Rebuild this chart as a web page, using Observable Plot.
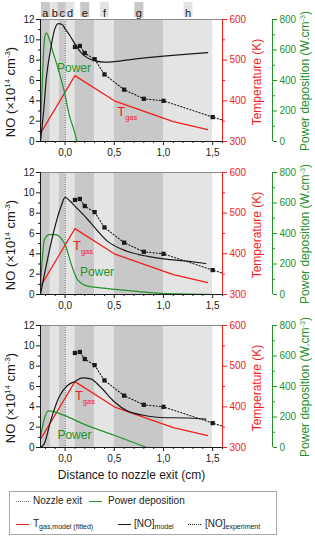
<!DOCTYPE html>
<html><head><meta charset="utf-8">
<script src="https://cdn.jsdelivr.net/npm/d3@7"></script>
<script src="https://cdn.jsdelivr.net/npm/@observablehq/plot@0.6"></script>
<style>
body{margin:0;background:#fff;font-family:"Liberation Sans",Arial,sans-serif;}
#wrap{position:relative;width:315px;height:536px;overflow:hidden;}
#charts svg{display:block;overflow:visible;background:transparent;}
#legend{position:absolute;left:9px;top:491px;width:266px;height:42px;border:1px solid #a8a8a8;font-size:10px;color:#222;}
#legend .sw{position:absolute;width:13px;height:0;}
#legend .lt{position:absolute;transform:translateY(-50%);line-height:1;white-space:nowrap;}
#legend sub{font-size:7px;vertical-align:-2px;}
.ttl{position:absolute;transform:translate(-50%,-50%) rotate(-90deg);white-space:nowrap;line-height:1;}
.ttl sup{font-size:0.6em;vertical-align:0.55em;line-height:0;}
</style></head>
<body><div id="wrap"><div id="charts"></div><div id="legend"></div></div>
<script>
// ---------- data ----------
const bandEdges = [-0.25, -0.15, -0.06, 0, 0.1, 0.3, 0.5, 1.0, 1.5];
const bandLabels = ["a", "b", "c", "d", "e", "f", "g", "h"];

const xMajorTicks = [0, 0.5, 1.0, 1.5];
const xMinorTicks = [-0.2, -0.1, 0.1, 0.2, 0.3, 0.4, 0.6, 0.7, 0.8, 0.9, 1.1, 1.2, 1.3, 1.4, 1.6];
const noMajorTicks = [0, 2, 4, 6, 8, 10, 12];
const noMinorTicks = [1, 3, 5, 7, 9, 11];
const tempMajorTicks = [300, 400, 500, 600];
const tempMinorTicks = [350, 450, 550];
const powerMajorTicks = [0, 200, 400, 600, 800];
const powerMinorTicks = [100, 300, 500, 700];

// gas temperature (K), same in all panels
const tgasX = [-0.25, 0.1, 0.5, 1.1, 1.45];
const tgasK = [320, 462, 400, 349, 329];

// experimental [NO] (x10^14 cm^-3), same in all panels
const expX  = [0.1, 0.15, 0.2, 0.3, 0.4, 0.6, 0.8, 1.0, 1.5];
const expNO = [9.3, 9.4, 8.7, 8.1, 6.6, 5.1, 4.2, 4.0, 2.4];
const expTrendEndX = 1.6, expTrendEndNO = 2.1;

// panel 1
const model1X  = [-0.25, -0.22, -0.19, -0.15, -0.11, -0.07, -0.03, 0, 0.05, 0.1, 0.15, 0.2, 0.3, 0.4, 0.5, 0.7, 1.0, 1.25, 1.45];
const model1NO = [0, 2.8, 6.3, 8.9, 10.9, 11.6, 11.5, 11.1, 10.4, 9.6, 8.9, 8.4, 7.95, 7.8, 7.85, 8.1, 8.4, 8.6, 8.75];
const power1X  = [-0.25, -0.235, -0.22, -0.205, -0.19, -0.17, -0.128, -0.06, -0.01, 0.04, 0.1, 0.12];
const power1P  = [100, 333, 567, 693, 713, 690, 597, 453, 333, 180, 53, 0];

// panel 2
const model2X  = [-0.25, -0.18, -0.11, -0.04, 0, 0.05, 0.1, 0.2, 0.26, 0.43, 0.63, 0.84, 1.0, 1.26, 1.43];
const model2NO = [0, 3.4, 6.4, 8.7, 9.55, 9.2, 8.7, 7.7, 7.05, 5.25, 4.25, 3.75, 3.5, 3.25, 3.05];
const power2X  = [-0.25, -0.21, -0.16, -0.095, -0.044, 0.007, 0.058, 0.126, 0.23, 0.36, 0.7, 0.97, 1.5];
const power2P  = [53, 360, 393, 393, 371, 317, 207, 98, 55, 44, 22, 7, 0];

// panel 3
const model3X  = [-0.25, -0.21, -0.145, -0.06, 0.024, 0.1, 0.18, 0.26, 0.36, 0.5, 0.63, 0.8, 0.97, 1.26, 1.43];
const model3NO = [0, 0.4, 2.7, 5.0, 6.1, 6.5, 6.85, 6.75, 5.95, 4.5, 3.6, 3.17, 2.95, 2.9, 2.8];
const power3X  = [-0.25, -0.21, -0.17, -0.01, 0.19, 0.5, 0.83];
const power3P  = [69, 190, 240, 211, 153, 80, 0];

// in-plot labels (x in cm, y in NO units)
const powerLabelX = [0.09, 0.325, 0.095];
const powerLabelY = [7.25, 2.18, 1.26];
const tgasLabelX  = [0.57, 0.12, 0.14];
const tgasLabelY  = [2.92, 4.8, 5.13];

const axisTitles = {
  no: "NO (×10<sup>14</sup> cm<sup>-3</sup>)",
  temp: "Temperature (K)",
  power: "Power deposition (W.cm<sup>-3</sup>)",
  x: "Distance to nozzle exit (cm)"
};

const legendItems = [
  {label: "Nozzle exit", kind: "nozzle"},
  {label: "Power deposition", kind: "power"},
  {label: "T<sub>gas,model (fitted)</sub>", kind: "tgas"},
  {label: "[NO]<sub>model</sub>", kind: "model"},
  {label: "[NO]<sub>experiment</sub>", kind: "exp"}
];

// ---------- styles ----------
const RED = "#f21d1d", GREEN = "#24922a", DARK = "#c8c8c8", LIGHT = "#e4e4e4", INK = "#1a1a1a";
const FONT = "'Liberation Sans', Arial, sans-serif";
const tToY = t => (t - 300) / 300 * 12;
const pToY = p => p / 800 * 12;
const comma = d => d.toFixed(1).replace(".", ",");
const boxSymbol = {draw(ctx) { ctx.rect(-4.5, -7.5, 9, 15); }};

const bands = bandLabels.map((l, j) => ({
  label: l, x1: bandEdges[j], x2: bandEdges[j + 1],
  mid: (bandEdges[j] + bandEdges[j + 1]) / 2, shade: j % 2 === 0 ? DARK : LIGHT
}));
const tgas = tgasX.map((x, j) => ({x, y: tToY(tgasK[j])}));
const exp = expX.map((x, j) => ({x, y: expNO[j]}));
const expLine = [...exp, {x: expTrendEndX, y: expTrendEndNO}];

const modelsX = [model1X, model2X, model3X], modelsNO = [model1NO, model2NO, model3NO];
const powersX = [power1X, power2X, power3X], powersP = [power1P, power2P, power3P];

function panel(i, top, bottom) {
  const model = modelsX[i].map((x, j) => ({x, y: modelsNO[i][j]}));
  const power = powersX[i].map((x, j) => ({x, y: pToY(powersP[i][j])}));
  const pl = [{x: powerLabelX[i], y: powerLabelY[i]}];
  const tl = [{x: tgasLabelX[i], y: tgasLabelY[i]}];
  const marks = [
    Plot.rectX(bands, {x1: "x1", x2: "x2", fill: "shade"}),
    Plot.ruleX([0], {stroke: "#444", strokeDasharray: "1,1.4"}),
    Plot.line(tgas, {x: "x", y: "y", stroke: RED, strokeWidth: 1.2}),
    Plot.line(power, {x: "x", y: "y", stroke: GREEN, strokeWidth: 1.2, curve: "monotone-x"}),
    Plot.line(model, {x: "x", y: "y", stroke: INK, strokeWidth: 1.2, curve: "monotone-x"}),
    Plot.line(expLine, {x: "x", y: "y", stroke: INK, strokeWidth: 1.1, strokeDasharray: "1.2,2"}),
    Plot.dot(exp, {x: "x", y: "y", symbol: "square", r: 2.4, fill: INK}),
    Plot.text(pl, {x: "x", y: "y", text: () => "Power", fill: GREEN, fontSize: 12}),
    Plot.text(tl, {x: "x", y: "y", text: () => "T", fill: RED, fontSize: 13}),
    Plot.text(tl, {x: "x", y: "y", text: () => "gas", fill: RED, fontSize: 7.5, textAnchor: "start", dx: 4, dy: 6}),
    Plot.ruleY([12], {stroke: "#8a8a8a"}),
    Plot.ruleY([0], {stroke: INK}),
    Plot.ruleX([-0.25], {stroke: INK}),
    Plot.ruleX([1.6], {stroke: RED}),
    Plot.ruleX([1.6], {stroke: GREEN, dx: 50}),
    Plot.axisX({ticks: xMajorTicks, tickFormat: comma, tickSize: 4, tickPadding: 3, fontSize: 10, label: null, color: INK}),
    Plot.axisX({ticks: xMinorTicks, tickFormat: () => "", tickSize: 2, label: null, color: INK}),
    Plot.axisY({ticks: noMajorTicks, tickSize: 4, tickPadding: 2, fontSize: 10, label: null, color: INK}),
    Plot.axisY({ticks: noMinorTicks, tickFormat: () => "", tickSize: 2, label: null, color: INK}),
    Plot.axisY({anchor: "right", ticks: tempMajorTicks.map(tToY), tickFormat: y => Math.round(300 + y * 25), tickSize: 4, tickPadding: 3, fontSize: 10, label: null, color: RED}),
    Plot.axisY({anchor: "right", ticks: tempMinorTicks.map(tToY), tickFormat: () => "", tickSize: 2, label: null, color: RED}),
    Plot.axisY({anchor: "right", ticks: powerMajorTicks.map(pToY), tickFormat: y => Math.round(y * 800 / 12), tickSize: 4, tickPadding: 3, fontSize: 10, label: null, color: GREEN, dx: 50}),
    Plot.axisY({anchor: "right", ticks: powerMinorTicks.map(pToY), tickFormat: () => "", tickSize: 2, label: null, color: GREEN, dx: 50})
  ];
  if (i === 0) {
    marks.push(
      Plot.dot(bands, {x: "mid", frameAnchor: "top", dy: -10, symbol: boxSymbol, fill: "shade", stroke: null}),
      Plot.text(bands, {x: "mid", text: "label", frameAnchor: "top", dy: -10, fontSize: 11, fill: INK})
    );
  }
  if (i === 2) {
    marks.push(Plot.text([axisTitles.x], {frameAnchor: "bottom", dy: 31, fontSize: 12, fill: INK}));
  }
  return Plot.plot({
    width: 315, height: top + 122 + bottom,
    marginLeft: 40, marginRight: 93, marginTop: top, marginBottom: bottom,
    x: {domain: [-0.25, 1.6]},
    y: {domain: [0, 12]},
    color: {type: "identity"},
    style: {fontFamily: FONT, background: "transparent", overflow: "visible", color: INK},
    marks
  });
}

const wrap = document.getElementById("wrap");
const charts = document.getElementById("charts");
charts.append(panel(0, 19, 21), panel(1, 10, 21), panel(2, 10, 40));

// rotated axis titles for each panel (panel plot tops at 19, 172, 325)
[19, 172, 325].forEach(top => {
  [[axisTitles.no, 10, top + 73, 13, INK],
   [axisTitles.temp, 257, top + 63, 12, RED],
   [axisTitles.power, 305, top + 62, 12, GREEN]].forEach(([html, cx, cy, fs, col]) => {
    const d = document.createElement("div");
    d.className = "ttl";
    d.style.cssText = `left:${cx}px;top:${cy}px;font-size:${fs}px;color:${col}`;
    d.innerHTML = html;
    wrap.append(d);
  });
});

// legend
const lg = document.getElementById("legend");
const swatch = {
  nozzle: "border-top:1px dotted #777",
  power: "border-top:1.3px solid " + GREEN,
  tgas: "border-top:1.3px solid " + RED,
  model: "border-top:1.3px solid " + INK,
  exp: "border-top:1.3px dotted " + INK
};
const legendPos = [[6, 23, 9], [79, 98, 9], [6, 23, 32], [108, 124, 32], [178, 195, 32]];
legendItems.forEach((it, j) => {
  const [sx, tx, cy] = legendPos[j];
  const s = document.createElement("span");
  s.className = "sw"; s.style.cssText = `left:${sx}px;top:${cy}px;${swatch[it.kind]}`;
  const t = document.createElement("span");
  t.className = "lt"; t.style.left = tx + "px"; t.style.top = cy + "px"; t.innerHTML = it.label;
  lg.append(s, t);
});
</script></body></html>
